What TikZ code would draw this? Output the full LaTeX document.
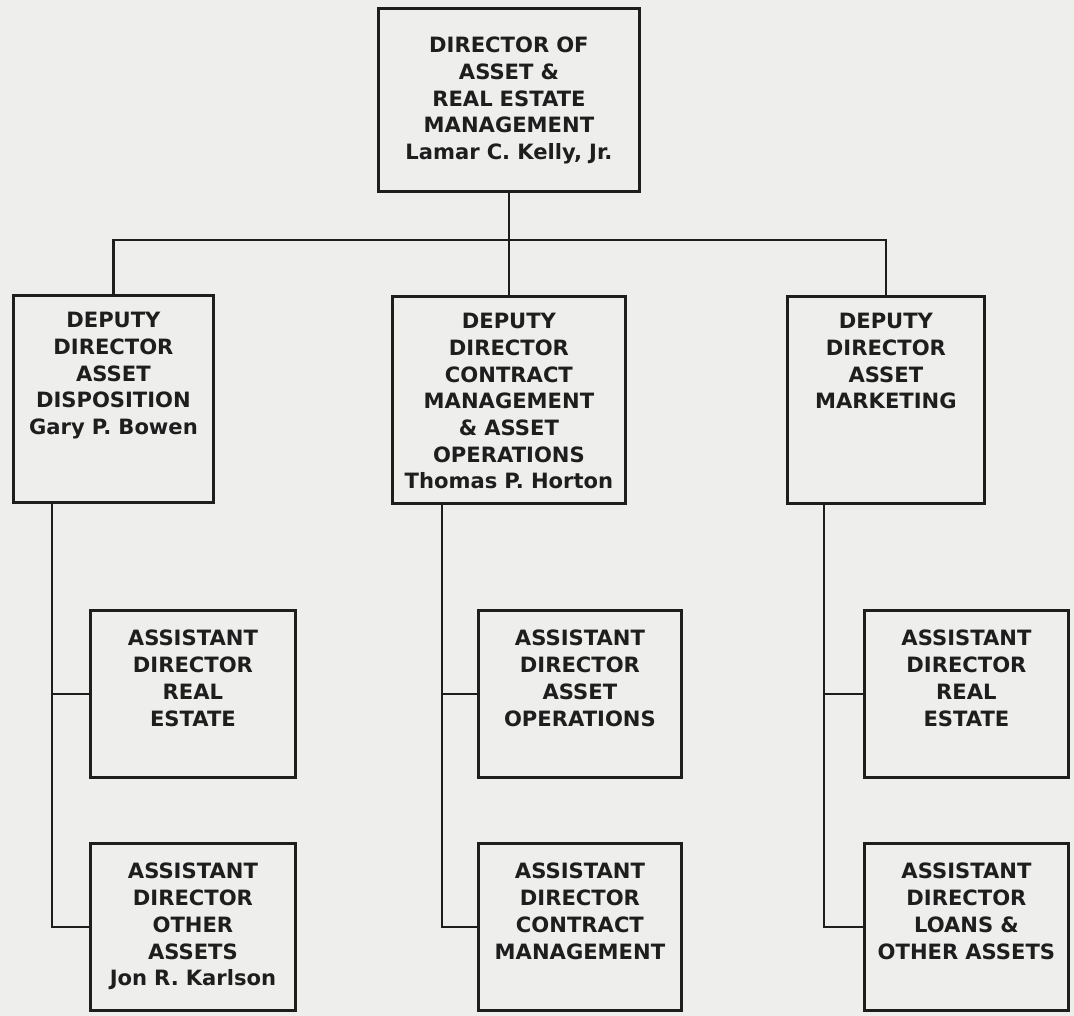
\documentclass[tikz,border=0pt]{standalone}
\usepackage{fontspec}
\setmainfont{DejaVu Sans}
\usepackage{xcolor}
\definecolor{paper}{HTML}{EEEEEC}
\definecolor{ink}{HTML}{1E1E1E}
\usepackage{tikz}
\usetikzlibrary{positioning, calc}

\tikzset{
  office/.style={draw=ink, line width=2pt, anchor=north west, align=center, text=ink,
    font=\bfseries\fontsize{15}{19}\selectfont, inner xsep=0pt, text height=11pt},
  head/.style={office, text width=#1, inner ysep=0.72cm, text depth=2.748cm},
  deputy/.style={office, text width=#1, inner ysep=0.42cm, text depth=3.948cm},
  assistant/.style={office, text width=#1, inner ysep=0.5cm, text depth=2.788cm},
  link/.style={draw=ink, line width=1.8pt}
}

\begin{document}
\begin{tikzpicture}[x=0.025cm, y=-0.025cm]
  % Page
  \fill[paper] (0,0) rectangle (1074,1016);

  % Director
  \node[head=6.525cm] (dir) at (377,7) {DIRECTOR OF\\ASSET \&\\REAL ESTATE\\MANAGEMENT\\Lamar C. Kelly, Jr.};

  % Deputy directors
  \node[deputy=5cm] (ddisp) at (12,294) {DEPUTY\\DIRECTOR\\ASSET\\DISPOSITION\\Gary P. Bowen};
  \node[deputy=5.825cm] (dcont) at (391,295) {DEPUTY\\DIRECTOR\\CONTRACT\\MANAGEMENT\\\& ASSET\\OPERATIONS\\Thomas P. Horton};
  \node[deputy=4.925cm] (dmark) at (786,295) {DEPUTY\\DIRECTOR\\ASSET\\MARKETING};

  % Assistant directors, left
  \node[assistant=5.125cm] (areal) at (89,609) {ASSISTANT\\DIRECTOR\\REAL\\ESTATE};
  \node[assistant=5.125cm] (aother) at (89,842) {ASSISTANT\\DIRECTOR\\OTHER\\ASSETS\\Jon R. Karlson};

  % Assistant directors, middle
  \node[assistant=5.075cm] (aops) at (477,609) {ASSISTANT\\DIRECTOR\\ASSET\\OPERATIONS};
  \node[assistant=5.075cm] (acont) at (477,842) {ASSISTANT\\DIRECTOR\\CONTRACT\\MANAGEMENT};

  % Assistant directors, right
  \node[assistant=5.1cm] (amreal) at (863,609) {ASSISTANT\\DIRECTOR\\REAL\\ESTATE};
  \node[assistant=5.1cm] (aloans) at (863,842) {ASSISTANT\\DIRECTOR\\LOANS \&\\OTHER ASSETS};

  % Connectors
  \coordinate (bus) at (0,240);
  \draw[link] (dir.south) -- (dir.south |- bus);
  \draw[link] (ddisp.north) -- (ddisp.north |- bus) -- (dmark.north |- bus) -- (dmark.north);
  \draw[link] (dcont.north) -- (dcont.north |- bus);

  \draw[link] ([xshift=1cm]ddisp.south west) |- (aother.west);
  \draw[link] ([xshift=1cm]ddisp.south west) |- (areal.west);
  \draw[link] ([xshift=1.275cm]dcont.south west) |- (acont.west);
  \draw[link] ([xshift=1.275cm]dcont.south west) |- (aops.west);
  \draw[link] ([xshift=0.95cm]dmark.south west) |- (aloans.west);
  \draw[link] ([xshift=0.95cm]dmark.south west) |- (amreal.west);
\end{tikzpicture}
\end{document}
